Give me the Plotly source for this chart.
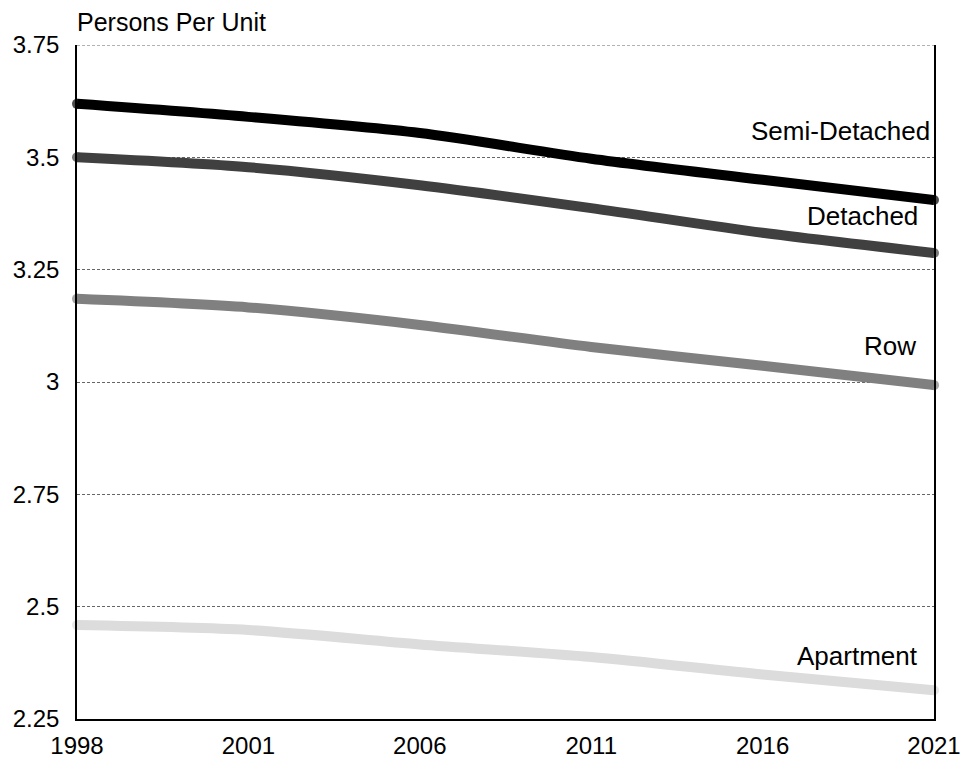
import plotly.graph_objects as go

# Census years shown on the horizontal axis
years = ["1998", "2001", "2006", "2011", "2016", "2021"]

# Average persons per unit by dwelling type
semi_detached = [3.619, 3.590, 3.554, 3.497, 3.450, 3.405]
detached = [3.500, 3.478, 3.438, 3.387, 3.332, 3.287]
row = [3.185, 3.166, 3.127, 3.078, 3.036, 2.993]
apartment = [2.459, 2.448, 2.416, 2.388, 2.349, 2.314]

series_names = ["Semi-Detached", "Detached", "Row", "Apartment"]
series_values = [semi_detached, detached, row, apartment]
series_colors = ["#000000", "#404040", "#808080", "#dcdcdc"]

# label placement (y in data units) for the right-hand series labels
label_y = [3.559, 3.369, 3.080, 2.390]
label_shift = [-2, -14, -16, -14]

y_ticks = [2.25, 2.5, 2.75, 3.0, 3.25, 3.5, 3.75]
y_ticktext = ["2.25", "2.5", "2.75", "3", "3.25", "3.5", "3.75"]

FONT = "Liberation Sans, Arial, sans-serif"

fig = go.Figure()
n = len(years)
for name, vals, color in zip(series_names[::-1], series_values[::-1], series_colors[::-1]):
    fig.add_trace(go.Scatter(
        x=years, y=vals, name=name,
        mode="lines+markers",
        line=dict(color=color, width=10, shape="spline", smoothing=0.8),
        marker=dict(color=color, size=[10] + [0] * (n - 2) + [10], line=dict(width=0)),
        showlegend=False, cliponaxis=False,
    ))

for name, ly, dx in zip(series_names, label_y, label_shift):
    fig.add_annotation(
        x=n - 1, y=ly, xref="x", yref="y", text=name, showarrow=False,
        xanchor="right", yanchor="middle", xshift=dx,
        font=dict(family=FONT, size=26, color="#000000"),
    )

fig.add_annotation(
    x=0, y=1, xref="paper", yref="paper", text="Persons Per Unit",
    showarrow=False, xanchor="left", yanchor="middle", yshift=23, xshift=-2,
    font=dict(family=FONT, size=25, color="#000000"),
)

# dashed rule along the top of the plot area
fig.add_shape(
    type="line", xref="paper", yref="y", x0=0, x1=1, y0=3.75, y1=3.75,
    line=dict(color="#666666", width=1, dash="3px,2px"), layer="below",
)

fig.update_layout(
    width=962, height=761,
    margin=dict(l=77, r=28, t=45, b=42),
    paper_bgcolor="#ffffff", plot_bgcolor="#ffffff",
    font=dict(family=FONT, size=24, color="#000000"),
    xaxis=dict(
        type="category", range=[0, n - 1], automargin=False,
        showgrid=False, zeroline=False,
        showline=True, linecolor="#000000", linewidth=1.5, mirror=False,
        ticks="", ticklabelstandoff=4,
        tickfont=dict(family=FONT, size=24),
    ),
    yaxis=dict(
        range=[2.25, 3.75], tickvals=y_ticks, ticktext=y_ticktext,
        automargin=False,
        showgrid=True, gridcolor="#666666", gridwidth=1, griddash="3px,2px",
        zeroline=False,
        showline=True, linecolor="#000000", linewidth=1.5, mirror=True,
        ticks="", ticklabelstandoff=11,
        tickfont=dict(family=FONT, size=24),
    ),
)

fig.write_html("out.html")
